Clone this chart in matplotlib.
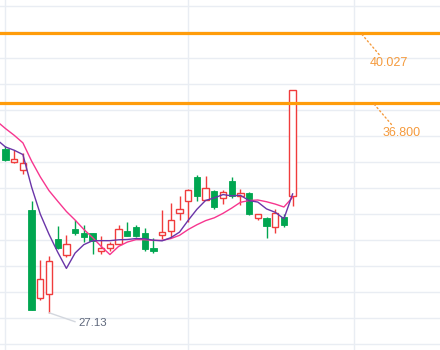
import numpy as np
import pandas as pd
import matplotlib
matplotlib.use("Agg")
import matplotlib.pyplot as plt

# ---- data ----
# closes of the sessions just before the first visible candle (only used for the MAs)
prior_close = [37.56, 37.34, 37.56, 35.65, 35.99, 35.86, 34.99, 35.06, 34.75, 34.94]

opens = [34.67, 34.09, 33.73, 31.88, 27.79, 28.00, 30.55, 29.80, 30.99, 30.80,
         30.80, 29.97, 30.12, 30.31, 30.88, 31.08, 30.82, 30.12, 30.73, 30.91,
         31.74, 32.30, 33.39, 32.35, 32.73, 32.44, 33.19, 32.53, 32.67, 31.51,
         31.51, 31.08, 31.57, 32.53]
highs = [34.81, 34.63, 34.49, 32.27, 29.57, 29.77, 31.14, 30.73, 31.42, 31.20,
         30.83, 30.69, 30.38, 31.16, 31.34, 31.19, 31.05, 30.59, 31.85, 32.21,
         32.54, 32.85, 33.50, 33.44, 32.81, 32.78, 33.39, 32.85, 32.70, 31.70,
         31.54, 31.93, 31.70, 37.39]
lows = [34.12, 34.04, 33.52, 27.25, 27.73, 27.13, 30.09, 29.69, 30.71, 30.38,
        29.85, 29.85, 30.00, 30.28, 30.69, 30.62, 30.00, 29.89, 30.54, 30.62,
        31.39, 31.34, 32.31, 32.35, 31.90, 32.13, 32.44, 32.08, 31.65, 31.42,
        30.59, 30.80, 31.08, 32.06]
closes = [34.16, 34.24, 34.06, 27.25, 28.69, 29.52, 30.11, 30.31, 30.80, 30.62,
          30.43, 30.12, 30.31, 31.00, 30.69, 30.65, 30.08, 29.97, 30.85, 31.42,
          31.93, 32.81, 32.51, 32.90, 32.00, 32.70, 32.51, 32.64, 31.67, 31.67,
          31.12, 31.73, 31.16, 37.39]

level_lines = [40.027, 36.800]
level_labels = ["40.027", "36.800"]
low_label = "27.13"
low_value = 27.13

# ---- styling ----
GREEN = "#00a650"
RED = "#f03c3c"
ORANGE = "#ff9c0a"
ORANGE_TXT = "#f59a3c"
PURPLE = "#6a35a8"
PINK = "#f7368f"
GRID = "#e9edf3"
FONT = ["Liberation Sans", "DejaVu Sans"]

fig = plt.figure(figsize=(4.4, 3.5), dpi=100)
ax = fig.add_axes([0, 0, 1, 1])

n = len(closes)
x = np.arange(n)
o = np.array(opens); h = np.array(highs); l = np.array(lows); c = np.array(closes)
up = c >= o

# grid
grid_levels = 41.287 - 1.2 * np.arange(14)
ax.set_yticks(grid_levels)
ax.set_xticks([0, 21, 40])
ax.grid(True, color=GRID, lw=1.0, zorder=0)
ax.tick_params(length=0, labelleft=False, labelbottom=False)
for s in ax.spines.values():
    s.set_visible(False)

# wicks
ax.vlines(x[up], l[up], h[up], color=RED, lw=1.0, zorder=2)
ax.vlines(x[~up], l[~up], h[~up], color=GREEN, lw=1.0, zorder=2)

# bodies
w = 0.72
ax.bar(x[up], c[up] - o[up], bottom=o[up], width=w, facecolor="white",
       edgecolor=RED, linewidth=1.0, zorder=3)
ax.bar(x[~up], o[~up] - c[~up], bottom=c[~up], width=w, facecolor=GREEN,
       edgecolor=GREEN, linewidth=0.6, zorder=3)

# moving averages
all_close = pd.Series(prior_close + closes, index=np.arange(-len(prior_close), n))
ma5 = all_close.rolling(5).mean()
ma10 = all_close.rolling(10).mean()
sel = all_close.index >= -1
ax.plot(all_close.index[sel], ma10[sel], color=PINK, lw=1.0, zorder=4)
ax.plot(all_close.index[sel], ma5[sel], color=PURPLE, lw=1.0, zorder=5)

# price level lines with labels
label_x = [40.86, 42.28]
for lv, lab, lx in zip(level_lines, level_labels, label_x):
    ax.axhline(lv, color=ORANGE, lw=2.3, zorder=6)
    ax.annotate(lab, xy=(lx, lv), xytext=(9, -30), textcoords="offset pixels",
                ha="left", va="center", fontsize=9, color=ORANGE_TXT, family=FONT,
                arrowprops=dict(arrowstyle="-", color=ORANGE_TXT, lw=1.0,
                                linestyle=(0, (1, 2)), shrinkA=0, shrinkB=0,
                                relpos=(0.3, 1.0)), zorder=7)

# lowest price marker
low_idx = int(np.argmin(l))
ax.annotate(low_label, xy=(low_idx, low_value), xytext=(29, -10),
            textcoords="offset pixels", ha="left", va="center", fontsize=8.25,
            color="#5f687c", family=FONT,
            arrowprops=dict(arrowstyle="-", color="#d3d7de", lw=1.0,
                            shrinkA=0, shrinkB=0, relpos=(0.0, 0.5)), zorder=7)

ax.set_xlim(-0.632, 49.94)
ax.set_ylim(25.41, 41.564)

fig.savefig("out.png", dpi=100)
